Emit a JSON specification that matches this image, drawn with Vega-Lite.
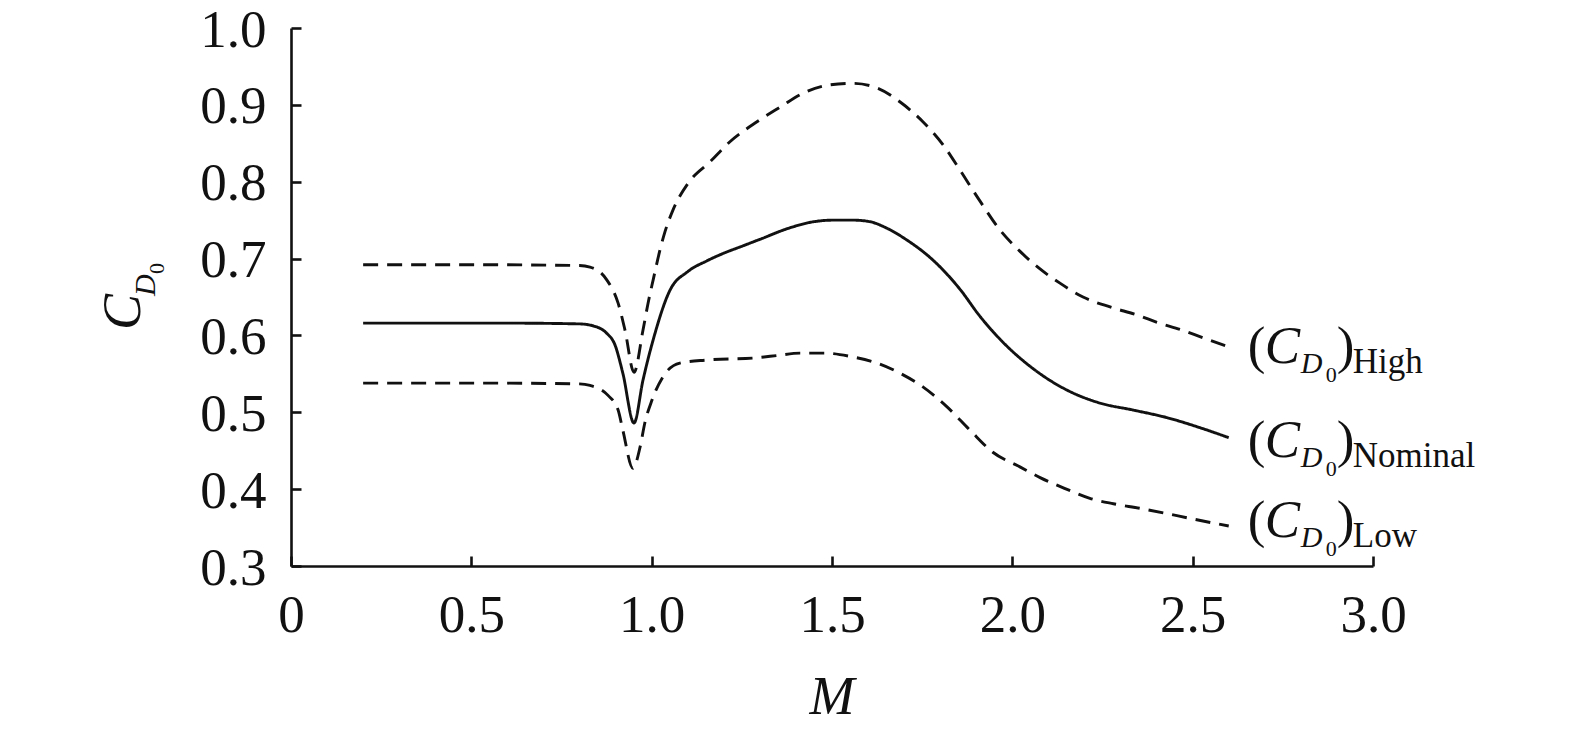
{
  "$schema": "https://vega.github.io/schema/vega-lite/v6.json",
  "width": 1082,
  "height": 538,
  "autosize": {"type": "none"},
  "padding": {"left": 291, "top": 28, "right": 202, "bottom": 166},
  "background": "white",
  "config": {"view": {"stroke": null}, "font": "Liberation Serif"},
  "datasets": {
    "curves": [
      {"s": "Nominal", "M": 0.2, "CD0": 0.616},
      {"s": "Nominal", "M": 0.4, "CD0": 0.616},
      {"s": "Nominal", "M": 0.6, "CD0": 0.616},
      {"s": "Nominal", "M": 0.8, "CD0": 0.615},
      {"s": "Nominal", "M": 0.848, "CD0": 0.611},
      {"s": "Nominal", "M": 0.875, "CD0": 0.603},
      {"s": "Nominal", "M": 0.898, "CD0": 0.588},
      {"s": "Nominal", "M": 0.92, "CD0": 0.551},
      {"s": "Nominal", "M": 0.951, "CD0": 0.486},
      {"s": "Nominal", "M": 0.976, "CD0": 0.542},
      {"s": "Nominal", "M": 1.004, "CD0": 0.594},
      {"s": "Nominal", "M": 1.051, "CD0": 0.659},
      {"s": "Nominal", "M": 1.1, "CD0": 0.683},
      {"s": "Nominal", "M": 1.153, "CD0": 0.697},
      {"s": "Nominal", "M": 1.2, "CD0": 0.707},
      {"s": "Nominal", "M": 1.25, "CD0": 0.716},
      {"s": "Nominal", "M": 1.3, "CD0": 0.725},
      {"s": "Nominal", "M": 1.383, "CD0": 0.74},
      {"s": "Nominal", "M": 1.45, "CD0": 0.748},
      {"s": "Nominal", "M": 1.503, "CD0": 0.75},
      {"s": "Nominal", "M": 1.56, "CD0": 0.75},
      {"s": "Nominal", "M": 1.605, "CD0": 0.748},
      {"s": "Nominal", "M": 1.65, "CD0": 0.74},
      {"s": "Nominal", "M": 1.708, "CD0": 0.724},
      {"s": "Nominal", "M": 1.78, "CD0": 0.698},
      {"s": "Nominal", "M": 1.855, "CD0": 0.66},
      {"s": "Nominal", "M": 1.91, "CD0": 0.625},
      {"s": "Nominal", "M": 1.966, "CD0": 0.595},
      {"s": "Nominal", "M": 2.057, "CD0": 0.557},
      {"s": "Nominal", "M": 2.151, "CD0": 0.529},
      {"s": "Nominal", "M": 2.243, "CD0": 0.512},
      {"s": "Nominal", "M": 2.334, "CD0": 0.503},
      {"s": "Nominal", "M": 2.429, "CD0": 0.493},
      {"s": "Nominal", "M": 2.52, "CD0": 0.48},
      {"s": "Nominal", "M": 2.6, "CD0": 0.467},
      {"s": "High", "M": 0.2, "CD0": 0.692},
      {"s": "High", "M": 0.5, "CD0": 0.692},
      {"s": "High", "M": 0.8, "CD0": 0.691},
      {"s": "High", "M": 0.829, "CD0": 0.689},
      {"s": "High", "M": 0.876, "CD0": 0.672},
      {"s": "High", "M": 0.907, "CD0": 0.642},
      {"s": "High", "M": 0.926, "CD0": 0.607},
      {"s": "High", "M": 0.951, "CD0": 0.552},
      {"s": "High", "M": 0.976, "CD0": 0.607},
      {"s": "High", "M": 0.99, "CD0": 0.642},
      {"s": "High", "M": 1.004, "CD0": 0.672},
      {"s": "High", "M": 1.023, "CD0": 0.711},
      {"s": "High", "M": 1.037, "CD0": 0.735},
      {"s": "High", "M": 1.059, "CD0": 0.763},
      {"s": "High", "M": 1.101, "CD0": 0.798},
      {"s": "High", "M": 1.162, "CD0": 0.826},
      {"s": "High", "M": 1.217, "CD0": 0.852},
      {"s": "High", "M": 1.292, "CD0": 0.878},
      {"s": "High", "M": 1.356, "CD0": 0.897},
      {"s": "High", "M": 1.419, "CD0": 0.915},
      {"s": "High", "M": 1.494, "CD0": 0.926},
      {"s": "High", "M": 1.558, "CD0": 0.928},
      {"s": "High", "M": 1.625, "CD0": 0.922},
      {"s": "High", "M": 1.688, "CD0": 0.904},
      {"s": "High", "M": 1.752, "CD0": 0.878},
      {"s": "High", "M": 1.808, "CD0": 0.848},
      {"s": "High", "M": 1.855, "CD0": 0.815},
      {"s": "High", "M": 1.91, "CD0": 0.775},
      {"s": "High", "M": 1.966, "CD0": 0.737},
      {"s": "High", "M": 2.02, "CD0": 0.71},
      {"s": "High", "M": 2.057, "CD0": 0.694},
      {"s": "High", "M": 2.132, "CD0": 0.668},
      {"s": "High", "M": 2.196, "CD0": 0.65},
      {"s": "High", "M": 2.271, "CD0": 0.637},
      {"s": "High", "M": 2.35, "CD0": 0.626},
      {"s": "High", "M": 2.401, "CD0": 0.617},
      {"s": "High", "M": 2.47, "CD0": 0.607},
      {"s": "High", "M": 2.528, "CD0": 0.597},
      {"s": "High", "M": 2.6, "CD0": 0.585},
      {"s": "Low", "M": 0.2, "CD0": 0.538},
      {"s": "Low", "M": 0.5, "CD0": 0.538},
      {"s": "Low", "M": 0.8, "CD0": 0.537},
      {"s": "Low", "M": 0.829, "CD0": 0.535},
      {"s": "Low", "M": 0.879, "CD0": 0.522},
      {"s": "Low", "M": 0.907, "CD0": 0.503},
      {"s": "Low", "M": 0.92, "CD0": 0.477},
      {"s": "Low", "M": 0.948, "CD0": 0.427},
      {"s": "Low", "M": 0.968, "CD0": 0.455},
      {"s": "Low", "M": 0.981, "CD0": 0.486},
      {"s": "Low", "M": 1.001, "CD0": 0.516},
      {"s": "Low", "M": 1.031, "CD0": 0.546},
      {"s": "Low", "M": 1.078, "CD0": 0.564},
      {"s": "Low", "M": 1.153, "CD0": 0.568},
      {"s": "Low", "M": 1.292, "CD0": 0.571},
      {"s": "Low", "M": 1.35, "CD0": 0.574},
      {"s": "Low", "M": 1.411, "CD0": 0.577},
      {"s": "Low", "M": 1.48, "CD0": 0.577},
      {"s": "Low", "M": 1.558, "CD0": 0.572},
      {"s": "Low", "M": 1.625, "CD0": 0.564},
      {"s": "Low", "M": 1.688, "CD0": 0.551},
      {"s": "Low", "M": 1.752, "CD0": 0.533},
      {"s": "Low", "M": 1.819, "CD0": 0.507},
      {"s": "Low", "M": 1.882, "CD0": 0.477},
      {"s": "Low", "M": 1.946, "CD0": 0.448},
      {"s": "Low", "M": 2.021, "CD0": 0.429},
      {"s": "Low", "M": 2.077, "CD0": 0.415},
      {"s": "Low", "M": 2.15, "CD0": 0.4},
      {"s": "Low", "M": 2.215, "CD0": 0.388},
      {"s": "Low", "M": 2.28, "CD0": 0.381},
      {"s": "Low", "M": 2.354, "CD0": 0.375},
      {"s": "Low", "M": 2.42, "CD0": 0.369},
      {"s": "Low", "M": 2.492, "CD0": 0.362},
      {"s": "Low", "M": 2.556, "CD0": 0.356},
      {"s": "Low", "M": 2.6, "CD0": 0.352}
    ],
    "labels": [
      {"s": "High", "M": 2.653, "CD0": 0.5641},
      {"s": "Nominal", "M": 2.653, "CD0": 0.4418},
      {"s": "Low", "M": 2.653, "CD0": 0.3377}
    ],
    "ytitle": [{"M": -0.4187, "CD0": 0.607}],
    "xtitle": [{"M": 1.5, "CD0": 0.1074}]
  },
  "encoding": {
    "x": {
      "field": "M",
      "type": "quantitative",
      "scale": {"domain": [0, 3], "nice": false, "zero": false},
      "axis": {
        "values": [0, 0.5, 1, 1.5, 2, 2.5, 3],
        "labelExpr": "datum.value == 0 ? '0' : format(datum.value, '.1f')",
        "title": null,
        "grid": false,
        "tickSize": -10,
        "tickWidth": 2.6,
        "tickColor": "#111",
        "domainWidth": 2.6,
        "domainColor": "#111",
        "labelFont": "Liberation Serif",
        "labelFontSize": 53,
        "labelColor": "#111",
        "labelPadding": 33,
        "labelFlush": false,
        "labelOverlap": false
      }
    },
    "y": {
      "field": "CD0",
      "type": "quantitative",
      "scale": {"domain": [0.3, 1.0], "nice": false, "zero": false},
      "axis": {
        "values": [0.3, 0.4, 0.5, 0.6, 0.7, 0.8, 0.9, 1.0],
        "labelExpr": "format(datum.value, '.1f')",
        "title": null,
        "grid": false,
        "tickSize": -10,
        "tickWidth": 2.6,
        "tickColor": "#111",
        "domainWidth": 2.6,
        "domainColor": "#111",
        "labelFont": "Liberation Serif",
        "labelFontSize": 53,
        "labelColor": "#111",
        "labelPadding": 35,
        "labelOffset": 2,
        "labelFlush": false,
        "labelOverlap": false
      }
    }
  },
  "layer": [
    {
      "data": {"name": "curves"},
      "mark": {"type": "line", "strokeWidth": 2.9, "interpolate": "monotone", "color": "#111"},
      "encoding": {
        "strokeDash": {
          "field": "s",
          "type": "nominal",
          "scale": {"domain": ["High", "Nominal", "Low"], "range": [[15, 9], [1, 0], [15, 9]]},
          "legend": null
        }
      }
    },
    {
      "data": {"name": "labels"},
      "mark": {"type": "text", "text": "(", "align": "left", "baseline": "alphabetic", "fontSize": 53, "color": "#111", "dx": 0}
    },
    {
      "data": {"name": "labels"},
      "mark": {"type": "text", "text": "C", "align": "left", "baseline": "alphabetic", "fontSize": 53, "fontStyle": "italic", "color": "#111", "dx": 17}
    },
    {
      "data": {"name": "labels"},
      "mark": {"type": "text", "text": "D", "align": "left", "baseline": "alphabetic", "fontSize": 30, "fontStyle": "italic", "color": "#111", "dx": 53, "dy": 10}
    },
    {
      "data": {"name": "labels"},
      "mark": {"type": "text", "text": "0", "align": "left", "baseline": "alphabetic", "fontSize": 22, "color": "#111", "dx": 78, "dy": 19}
    },
    {
      "data": {"name": "labels"},
      "mark": {"type": "text", "text": ")", "align": "left", "baseline": "alphabetic", "fontSize": 53, "color": "#111", "dx": 89}
    },
    {
      "data": {"name": "labels"},
      "mark": {"type": "text", "align": "left", "baseline": "alphabetic", "fontSize": 35, "color": "#111", "dx": 105, "dy": 10},
      "encoding": {"text": {"field": "s"}}
    },
    {
      "data": {"name": "ytitle"},
      "mark": {"type": "text", "text": "C", "angle": 270, "align": "left", "baseline": "alphabetic", "fontSize": 54, "fontStyle": "italic", "color": "#111"}
    },
    {
      "data": {"name": "ytitle"},
      "mark": {"type": "text", "text": "D", "angle": 270, "align": "left", "baseline": "alphabetic", "fontSize": 30, "fontStyle": "italic", "color": "#111", "dx": 34, "dy": 15}
    },
    {
      "data": {"name": "ytitle"},
      "mark": {"type": "text", "text": "0", "angle": 270, "align": "left", "baseline": "alphabetic", "fontSize": 22, "color": "#111", "dx": 56, "dy": 24}
    },
    {
      "data": {"name": "xtitle"},
      "mark": {"type": "text", "text": "M", "align": "center", "baseline": "alphabetic", "fontSize": 54, "fontStyle": "italic", "color": "#111"}
    }
  ]
}
